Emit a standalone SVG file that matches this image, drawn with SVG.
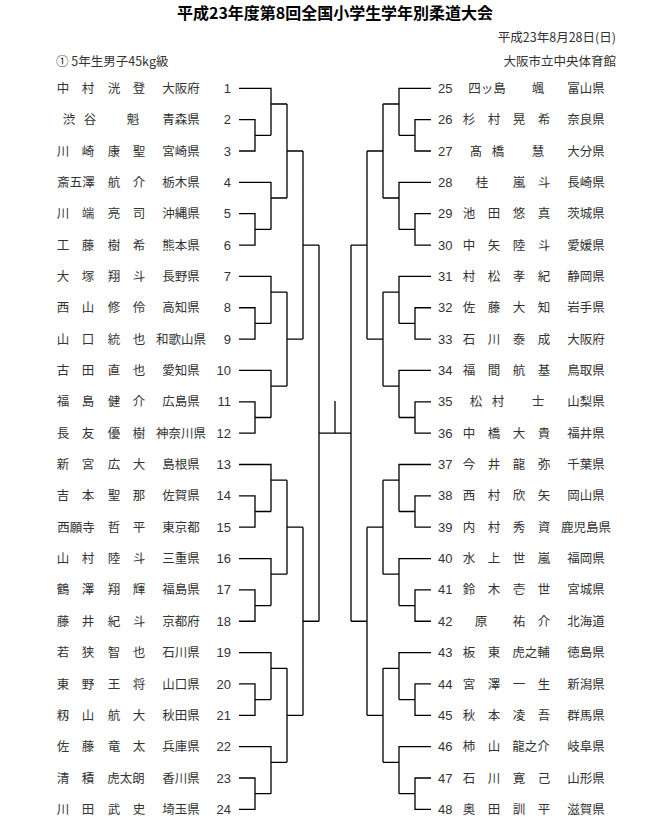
<svg xmlns="http://www.w3.org/2000/svg" xmlns:xlink="http://www.w3.org/1999/xlink" width="670" height="831" viewBox="0 0 670 831">
<style>
text{font-family:"Noto Sans CJK JP","Noto Sans",sans-serif;fill:#333;font-size:12.5px}
.n{text-anchor:middle}
.num{font-family:"Liberation Sans","Noto Sans",sans-serif;font-size:13px}
.h{font-size:12.5px}
.l{fill:none;stroke:#000;stroke-width:1.3}
</style>
<rect width="670" height="831" fill="#fff"/>
<g id="header">
<text x="335" y="19" class="n" style="font-size:16px;fill:#000;font-weight:bold" textLength="316" lengthAdjust="spacingAndGlyphs">平成23年度第8回全国小学生学年別柔道大会</text>
<text x="616" y="42" class="h" style="text-anchor:end">平成23年8月28日(日)</text>
<text x="56" y="66" class="h">① 5年生男子45kg級</text>
<text x="616" y="66" class="h" style="text-anchor:end">大阪市立中央体育館</text>
</g>
<g id="connectors">
<g id="leftBracket">
<path class="l" d="M239 119.65H255V151H239M255 135.3H271M239 88.3H271V135.3M271 104H287
M239 213.7H255V245.05H239M255 229.4H271M239 182.35H271V229.4M271 198H287
M239 307.75H255V339.1H239M255 323.4H271M239 276.4H271V323.4M271 292.1H287
M239 401.8H255V433.15H239M255 417.5H271M239 370.45H271V417.5M271 386.1H287
M239 495.85H255V527.2H239M255 511.5H271M239 464.5H271V511.5M271 480.2H287
M239 589.9H255V621.25H239M255 605.6H271M239 558.55H271V605.6M271 574.2H287
M239 683.95H255V715.3H239M255 699.6H271M239 652.6H271V699.6M271 668.3H287
M239 778H255V809.35H239M255 793.7H271M239 746.65H271V793.7M271 762.3H287
M287 104V198M287 151H303M287 292.1V386.1M287 339.1H303M287 480.2V574.2M287 527.2H303M287 668.3V762.3M287 715.3H303
M303 151V339.1M303 245.05H319M303 527.2V715.3M303 621.25H319
M319 245.05V621.25M319 433.15H335"/>
</g>
<use xlink:href="#leftBracket" transform="translate(670,0) scale(-1,1)"/>
<path class="l" d="M335 401V433.15"/>
</g>
<g id="left">
<g id="p1"><text class="n" x="63 88 114 139" y="92.8">中村洸登</text><text class="n" x="181" y="92.8">大阪府</text><text class="num" x="231" y="92.8" text-anchor="end">1</text></g>
<g id="p2"><text class="n" x="69 90 133" y="124.2">渋谷魁</text><text class="n" x="181" y="124.2">青森県</text><text class="num" x="231" y="124.2" text-anchor="end">2</text></g>
<g id="p3"><text class="n" x="63 88 114 139" y="155.5">川崎康聖</text><text class="n" x="181" y="155.5">宮崎県</text><text class="num" x="231" y="155.5" text-anchor="end">3</text></g>
<g id="p4"><text class="n" x="76" y="186.9">斎五澤</text><text class="n" x="114 139" y="186.9">航介</text><text class="n" x="181" y="186.9">栃木県</text><text class="num" x="231" y="186.9" text-anchor="end">4</text></g>
<g id="p5"><text class="n" x="63 88 114 139" y="218.2">川端亮司</text><text class="n" x="181" y="218.2">沖縄県</text><text class="num" x="231" y="218.2" text-anchor="end">5</text></g>
<g id="p6"><text class="n" x="63 88 114 139" y="249.6">工藤樹希</text><text class="n" x="181" y="249.6">熊本県</text><text class="num" x="231" y="249.6" text-anchor="end">6</text></g>
<g id="p7"><text class="n" x="63 88 114 139" y="280.9">大塚翔斗</text><text class="n" x="181" y="280.9">長野県</text><text class="num" x="231" y="280.9" text-anchor="end">7</text></g>
<g id="p8"><text class="n" x="63 88 114 139" y="312.3">西山修伶</text><text class="n" x="181" y="312.3">高知県</text><text class="num" x="231" y="312.3" text-anchor="end">8</text></g>
<g id="p9"><text class="n" x="63 88 114 139" y="343.6">山口統也</text><text class="n" x="181" y="343.6">和歌山県</text><text class="num" x="231" y="343.6" text-anchor="end">9</text></g>
<g id="p10"><text class="n" x="63 88 114 139" y="375">古田直也</text><text class="n" x="181" y="375">愛知県</text><text class="num" x="231" y="375" text-anchor="end">10</text></g>
<g id="p11"><text class="n" x="63 88 114 139" y="406.3">福島健介</text><text class="n" x="181" y="406.3">広島県</text><text class="num" x="231" y="406.3" text-anchor="end">11</text></g>
<g id="p12"><text class="n" x="63 88 114 139" y="437.7">長友優樹</text><text class="n" x="181" y="437.7">神奈川県</text><text class="num" x="231" y="437.7" text-anchor="end">12</text></g>
<g id="p13"><text class="n" x="63 88 114 139" y="469">新宮広大</text><text class="n" x="181" y="469">島根県</text><text class="num" x="231" y="469" text-anchor="end">13</text></g>
<g id="p14"><text class="n" x="63 88 114 139" y="500.4">吉本聖那</text><text class="n" x="181" y="500.4">佐賀県</text><text class="num" x="231" y="500.4" text-anchor="end">14</text></g>
<g id="p15"><text class="n" x="76" y="531.7">西願寺</text><text class="n" x="114 139" y="531.7">哲平</text><text class="n" x="181" y="531.7">東京都</text><text class="num" x="231" y="531.7" text-anchor="end">15</text></g>
<g id="p16"><text class="n" x="63 88 114 139" y="563.1">山村陸斗</text><text class="n" x="181" y="563.1">三重県</text><text class="num" x="231" y="563.1" text-anchor="end">16</text></g>
<g id="p17"><text class="n" x="63 88 114 139" y="594.4">鶴澤翔輝</text><text class="n" x="181" y="594.4">福島県</text><text class="num" x="231" y="594.4" text-anchor="end">17</text></g>
<g id="p18"><text class="n" x="63 88 114 139" y="625.8">藤井紀斗</text><text class="n" x="181" y="625.8">京都府</text><text class="num" x="231" y="625.8" text-anchor="end">18</text></g>
<g id="p19"><text class="n" x="63 88 114 139" y="657.1">若狭智也</text><text class="n" x="181" y="657.1">石川県</text><text class="num" x="231" y="657.1" text-anchor="end">19</text></g>
<g id="p20"><text class="n" x="63 88 114 139" y="688.5">東野王将</text><text class="n" x="181" y="688.5">山口県</text><text class="num" x="231" y="688.5" text-anchor="end">20</text></g>
<g id="p21"><text class="n" x="63 88 114 139" y="719.8">籾山航大</text><text class="n" x="181" y="719.8">秋田県</text><text class="num" x="231" y="719.8" text-anchor="end">21</text></g>
<g id="p22"><text class="n" x="63 88 114 139" y="751.2">佐藤竜太</text><text class="n" x="181" y="751.2">兵庫県</text><text class="num" x="231" y="751.2" text-anchor="end">22</text></g>
<g id="p23"><text class="n" x="63 88" y="782.5">清積</text><text class="n" x="126" y="782.5">虎太朗</text><text class="n" x="181" y="782.5">香川県</text><text class="num" x="231" y="782.5" text-anchor="end">23</text></g>
<g id="p24"><text class="n" x="63 88 114 139" y="813.9">川田武史</text><text class="n" x="181" y="813.9">埼玉県</text><text class="num" x="231" y="813.9" text-anchor="end">24</text></g>
</g>
<g id="right">
<g id="p25"><text class="num" x="438" y="92.8">25</text><text class="n" x="487" y="92.8">四ッ島</text><text class="n" x="538" y="92.8">颯</text><text class="n" x="586" y="92.8">富山県</text></g>
<g id="p26"><text class="num" x="438" y="124.2">26</text><text class="n" x="469 494 519 544" y="124.2">杉村晃希</text><text class="n" x="586" y="124.2">奈良県</text></g>
<g id="p27"><text class="num" x="438" y="155.5">27</text><text class="n" x="476 498 538" y="155.5">髙橋慧</text><text class="n" x="586" y="155.5">大分県</text></g>
<g id="p28"><text class="num" x="438" y="186.9">28</text><text class="n" x="482 519 544" y="186.9">桂嵐斗</text><text class="n" x="586" y="186.9">長崎県</text></g>
<g id="p29"><text class="num" x="438" y="218.2">29</text><text class="n" x="469 494 519 544" y="218.2">池田悠真</text><text class="n" x="586" y="218.2">茨城県</text></g>
<g id="p30"><text class="num" x="438" y="249.6">30</text><text class="n" x="469 494 519 544" y="249.6">中矢陸斗</text><text class="n" x="586" y="249.6">愛媛県</text></g>
<g id="p31"><text class="num" x="438" y="280.9">31</text><text class="n" x="469 494 519 544" y="280.9">村松孝紀</text><text class="n" x="586" y="280.9">静岡県</text></g>
<g id="p32"><text class="num" x="438" y="312.3">32</text><text class="n" x="469 494 519 544" y="312.3">佐藤大知</text><text class="n" x="586" y="312.3">岩手県</text></g>
<g id="p33"><text class="num" x="438" y="343.6">33</text><text class="n" x="469 494 519 544" y="343.6">石川泰成</text><text class="n" x="586" y="343.6">大阪府</text></g>
<g id="p34"><text class="num" x="438" y="375">34</text><text class="n" x="469 494 519 544" y="375">福間航基</text><text class="n" x="586" y="375">鳥取県</text></g>
<g id="p35"><text class="num" x="438" y="406.3">35</text><text class="n" x="476 498 538" y="406.3">松村士</text><text class="n" x="586" y="406.3">山梨県</text></g>
<g id="p36"><text class="num" x="438" y="437.7">36</text><text class="n" x="469 494 519 544" y="437.7">中橋大貴</text><text class="n" x="586" y="437.7">福井県</text></g>
<g id="p37"><text class="num" x="438" y="469">37</text><text class="n" x="469 494 519 544" y="469">今井龍弥</text><text class="n" x="586" y="469">千葉県</text></g>
<g id="p38"><text class="num" x="438" y="500.4">38</text><text class="n" x="469 494 519 544" y="500.4">西村欣矢</text><text class="n" x="586" y="500.4">岡山県</text></g>
<g id="p39"><text class="num" x="438" y="531.7">39</text><text class="n" x="469 494 519 544" y="531.7">内村秀資</text><text class="n" x="586" y="531.7">鹿児島県</text></g>
<g id="p40"><text class="num" x="438" y="563.1">40</text><text class="n" x="469 494 519 544" y="563.1">水上世嵐</text><text class="n" x="586" y="563.1">福岡県</text></g>
<g id="p41"><text class="num" x="438" y="594.4">41</text><text class="n" x="469 494 519 544" y="594.4">鈴木壱世</text><text class="n" x="586" y="594.4">宮城県</text></g>
<g id="p42"><text class="num" x="438" y="625.8">42</text><text class="n" x="481 519 544" y="625.8">原祐介</text><text class="n" x="586" y="625.8">北海道</text></g>
<g id="p43"><text class="num" x="438" y="657.1">43</text><text class="n" x="469 494" y="657.1">板東</text><text class="n" x="531" y="657.1">虎之輔</text><text class="n" x="586" y="657.1">徳島県</text></g>
<g id="p44"><text class="num" x="438" y="688.5">44</text><text class="n" x="469 494 519 544" y="688.5">宮澤一生</text><text class="n" x="586" y="688.5">新潟県</text></g>
<g id="p45"><text class="num" x="438" y="719.8">45</text><text class="n" x="469 494 519 544" y="719.8">秋本凌吾</text><text class="n" x="586" y="719.8">群馬県</text></g>
<g id="p46"><text class="num" x="438" y="751.2">46</text><text class="n" x="469 494" y="751.2">柿山</text><text class="n" x="531" y="751.2">龍之介</text><text class="n" x="586" y="751.2">岐阜県</text></g>
<g id="p47"><text class="num" x="438" y="782.5">47</text><text class="n" x="469 494 519 544" y="782.5">石川寛己</text><text class="n" x="586" y="782.5">山形県</text></g>
<g id="p48"><text class="num" x="438" y="813.9">48</text><text class="n" x="469 494 519 544" y="813.9">奥田訓平</text><text class="n" x="586" y="813.9">滋賀県</text></g>
</g>
</svg>
